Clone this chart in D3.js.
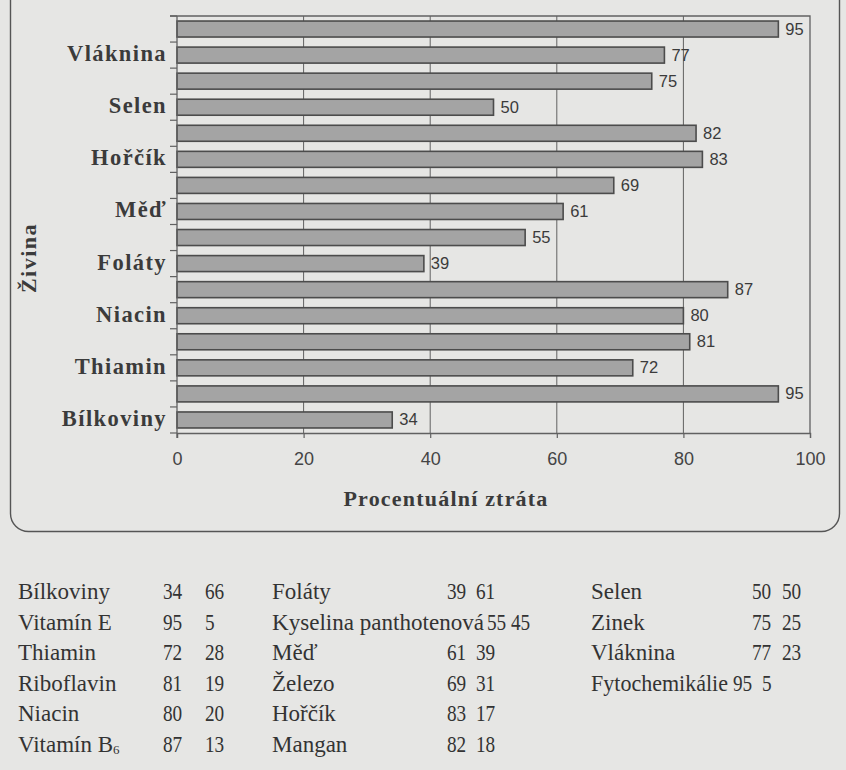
<!DOCTYPE html>
<html>
<head>
<meta charset="utf-8">
<script src="https://cdn.jsdelivr.net/npm/d3@7"></script>
<style>
  html, body { margin: 0; padding: 0; background: #e6e6e4; }
  svg { display: block; }
</style>
</head>
<body>
<svg id="chart" width="846" height="770"></svg>
<script>
// ---- data, bottom to top in the chart ----
const categories = ["Bílkoviny","Vitamín E","Thiamin","Riboflavin","Niacin","Vitamín B6",
  "Foláty","Kyselina panthotenová","Měď","Železo","Hořčík","Mangan",
  "Selen","Zinek","Vláknina","Fytochemikálie"];
const lossValues = [34,95,72,81,80,87,39,55,61,69,83,82,50,75,77,95];
const retainedValues = [66,5,28,19,20,13,61,45,39,31,17,18,50,25,23,5];
const shownLabels = ["Vláknina","Selen","Hořčík","Měď","Foláty","Niacin","Thiamin","Bílkoviny"];
const xTicks = [0,20,40,60,80,100];
const xTitle = "Procentuální ztráta";
const yTitle = "Živina";
const tableColumns = [
  ["Bílkoviny","Vitamín E","Thiamin","Riboflavin","Niacin","Vitamín B6"],
  ["Foláty","Kyselina panthotenová","Měď","Železo","Hořčík","Mangan"],
  ["Selen","Zinek","Vláknina","Fytochemikálie"]
];

// ---- layout ----
const svg = d3.select("#chart");
const plot = {left: 177, right: 810, top: 16, bottom: 433};
const ink = "#3b3b3b";
const gridInk = "#616161";

const x = d3.scaleLinear().domain([0,100]).range([plot.left, plot.right]);
const y = d3.scaleBand().domain(categories.slice().reverse())
  .range([plot.top, plot.bottom]).paddingInner(0.386).paddingOuter(0.193);
const step = y.step();

// frame (rounded box, top edge off-page)
svg.append("rect").attr("x",10.5).attr("y",-40).attr("width",829).attr("height",571.5)
  .attr("rx",18).attr("fill","none").attr("stroke","#555").attr("stroke-width",1.4);

// gridlines + plot border
const g = svg.append("g");
g.selectAll("line.grid").data(xTicks.filter(d => d > 0 && d < 100)).join("line")
  .attr("class","grid").attr("x1",d=>x(d)).attr("x2",d=>x(d))
  .attr("y1",plot.top).attr("y2",plot.bottom).attr("stroke",gridInk).attr("stroke-width",1);
g.append("path").attr("d",`M${plot.left-7},${plot.top}H${plot.right}V${plot.bottom}`)
  .attr("fill","none").attr("stroke",gridInk).attr("stroke-width",1.3);

// bars
g.selectAll("rect.bar").data(categories).join("rect").attr("class","bar")
  .attr("x", x(0)).attr("y", d => y(d))
  .attr("width", (d,i) => x(lossValues[i]) - x(0))
  .attr("height", y.bandwidth())
  .attr("fill","#a4a4a4").attr("stroke","#4c4c4c").attr("stroke-width",1.6);

// value labels
g.selectAll("text.val").data(categories).join("text").attr("class","val")
  .attr("x",(d,i)=>x(lossValues[i]) + 7)
  .attr("y", d => y(d) + y.bandwidth()/2 + 5.5)
  .attr("font-family","'Liberation Sans', Arial, sans-serif").attr("font-size",16.5)
  .attr("fill",ink).text((d,i)=>lossValues[i]);

// x axis
const xAxis = d3.axisBottom(x).tickValues(xTicks).tickSize(5).tickPadding(14).tickFormat(d3.format("d"));
const gx = svg.append("g").attr("transform",`translate(0,${plot.bottom})`).call(xAxis);
gx.select(".domain").attr("stroke",gridInk).attr("stroke-width",1.3);
gx.selectAll(".tick line").attr("stroke",gridInk).attr("stroke-width",1.2);
gx.selectAll(".tick text").attr("font-family","'Liberation Sans', Arial, sans-serif")
  .attr("font-size",18).attr("fill","#444");

// y axis: line + ticks at category boundaries
const boundaries = d3.range(categories.length + 1).map(i => plot.top + i * step);
svg.append("line").attr("x1",plot.left).attr("x2",plot.left).attr("y1",plot.top).attr("y2",plot.bottom+5)
  .attr("stroke",gridInk).attr("stroke-width",1.3);
svg.selectAll("line.ytick").data(boundaries).join("line").attr("class","ytick")
  .attr("x1",plot.left-7).attr("x2",plot.left).attr("y1",d=>d).attr("y2",d=>d)
  .attr("stroke",gridInk).attr("stroke-width",1.2);

// category labels (every other)
svg.selectAll("text.cat").data(shownLabels).join("text").attr("class","cat")
  .attr("x",167).attr("y",d => y(d) + y.bandwidth()/2 + 6)
  .attr("text-anchor","end")
  .attr("font-family","'Liberation Serif', 'Times New Roman', serif").attr("font-weight","bold")
  .attr("font-size",22.5).attr("letter-spacing",1.4).attr("fill",ink).text(d=>d);

// axis titles
svg.append("text").attr("x",446).attr("y",506).attr("text-anchor","middle")
  .attr("font-family","'Liberation Serif', 'Times New Roman', serif").attr("font-weight","bold")
  .attr("font-size",22).attr("letter-spacing",1.2).attr("fill",ink).text(xTitle);
svg.append("text").attr("transform","translate(36,258) rotate(-90)").attr("text-anchor","middle")
  .attr("font-family","'Liberation Serif', 'Times New Roman', serif").attr("font-weight","bold")
  .attr("font-size",22).attr("letter-spacing",1.5).attr("fill",ink).text(yTitle);

// ---- table below the chart ----
const colX = [{name:18, a:163, b:205}, {name:272, a:447, b:476}, {name:591, a:752, b:782}];
const rowY0 = 599, rowStep = 30.6;
const serif = "'Liberation Serif', 'Times New Roman', serif";
const digitW = 9.6;
function num(xp, yp, v) {
  const s = String(v);
  svg.append("text").attr("x", xp).attr("y", yp).attr("font-family", serif)
    .attr("font-size", 23).attr("fill", "#333")
    .attr("textLength", s.length * digitW).attr("lengthAdjust","spacingAndGlyphs").text(s);
}
tableColumns.forEach((col, ci) => {
  col.forEach((name, ri) => {
    const idx = categories.indexOf(name);
    const yy = rowY0 + ri * rowStep;
    const t = svg.append("text").attr("x", colX[ci].name).attr("y", yy)
      .attr("font-family", serif).attr("font-size", 23).attr("fill", "#333");
    if (name === "Vitamín B6") {
      t.append("tspan").text("Vitamín B");
      t.append("tspan").attr("font-size",13).attr("dy",2).text("6");
    } else {
      t.text(name);
    }
    let ax = colX[ci].a, bx = colX[ci].b;
    if (name === "Kyselina panthotenová") { t.attr("textLength",212).attr("lengthAdjust","spacingAndGlyphs"); ax = 487; bx = 511; }
    if (name === "Fytochemikálie") { t.attr("textLength",137).attr("lengthAdjust","spacingAndGlyphs"); ax = 733; bx = 762; }
    num(ax, yy, lossValues[idx]);
    num(bx, yy, retainedValues[idx]);
  });
});
</script>
</body>
</html>
